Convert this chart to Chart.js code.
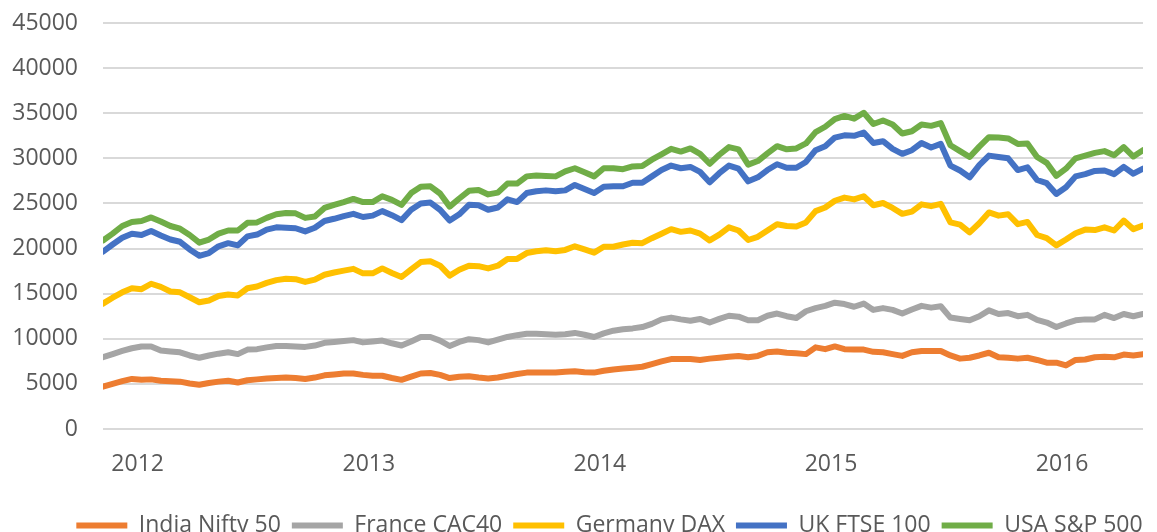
<!DOCTYPE html>
<html>
<head>
<meta charset="utf-8">
<script src="https://cdn.jsdelivr.net/npm/chart.js@4.4.0/dist/chart.umd.min.js"></script>
<style>
  html, body { margin: 0; padding: 0; background: #fff; }
  #wrap { width: 1157px; height: 532px; }
</style>
</head>
<body>
<div id="wrap"><canvas id="indexChart"></canvas></div>
<script>
const seriesNames = ['India Nifty 50', 'France CAC40', 'Germany DAX', 'UK FTSE 100', 'USA S&P 500'];
const seriesColors = ['#ED7D31', '#A5A5A5', '#FFC000', '#4472C4', '#70AD47'];
const yearTicks = [2012, 2013, 2014, 2015, 2016];

// two readings a month, early Nov 2011 to early May 2016
const dates = Array.from({ length: 109 }, (_, i) => 2011.85 + i / 24);

// levels as plotted (each line sits on top of the one below it)
const nifty = [4700, 5000, 5300, 5550, 5450, 5500, 5350, 5300, 5250, 5050, 4900, 5100, 5250, 5350, 5150, 5400, 5500, 5600, 5650, 5700,
  5650, 5550, 5700, 5950, 6050, 6150, 6150, 6000, 5900, 5900, 5650, 5450, 5800, 6150, 6200, 6000, 5650, 5800, 5850, 5700,
  5600, 5700, 5900, 6100, 6250, 6250, 6250, 6250, 6350, 6400, 6300, 6250, 6450, 6600, 6700, 6800, 6900, 7200, 7500, 7750,
  7750, 7750, 7650, 7800, 7900, 8000, 8100, 7950, 8100, 8500, 8600, 8450, 8400, 8300, 9050, 8850, 9150, 8850, 8800, 8800,
  8550, 8500, 8300, 8100, 8500, 8650, 8650, 8650, 8150, 7800, 7900, 8150, 8450, 7950, 7900, 7800, 7900, 7650, 7350, 7350,
  7050, 7650, 7700, 7950, 8000, 7950, 8250, 8150, 8300];
const cac40 = [7950, 8300, 8650, 8950, 9150, 9150, 8700, 8600, 8500, 8150, 7900, 8150, 8350, 8500, 8300, 8800, 8850, 9050, 9200, 9200,
  9150, 9100, 9250, 9550, 9650, 9750, 9850, 9600, 9700, 9800, 9500, 9250, 9700, 10200, 10200, 9800, 9200, 9650, 9950, 9850,
  9600, 9900, 10200, 10400, 10550, 10550, 10500, 10450, 10500, 10650, 10450, 10200, 10600, 10900, 11050, 11150, 11300, 11650, 12150, 12350,
  12150, 12000, 12200, 11800, 12200, 12550, 12450, 12050, 12050, 12550, 12800, 12500, 12300, 13050, 13400, 13650, 14000, 13850, 13550, 13900,
  13200, 13400, 13200, 12800, 13250, 13650, 13450, 13600, 12350, 12200, 12050, 12500, 13150, 12750, 12850, 12500, 12650, 12100, 11800, 11300,
  11700, 12050, 12150, 12150, 12650, 12300, 12750, 12500, 12750];
const dax = [13900, 14550, 15150, 15600, 15500, 16100, 15750, 15250, 15150, 14600, 14050, 14250, 14750, 14900, 14800, 15600, 15800, 16200, 16500, 16650,
  16600, 16300, 16550, 17100, 17350, 17550, 17750, 17250, 17250, 17800, 17300, 16850, 17700, 18500, 18600, 18100, 17000, 17650, 18100, 18050,
  17800, 18100, 18850, 18850, 19500, 19700, 19800, 19700, 19850, 20250, 19900, 19550, 20200, 20200, 20450, 20650, 20600, 21150, 21650, 22150,
  21850, 22000, 21650, 20900, 21550, 22350, 22000, 20950, 21300, 22000, 22700, 22500, 22450, 22900, 24150, 24550, 25300, 25650, 25450, 25800,
  24800, 25050, 24500, 23850, 24100, 24900, 24700, 24950, 22900, 22650, 21800, 22800, 24000, 23650, 23800, 22700, 22950, 21500, 21150, 20350,
  21000, 21700, 22100, 22050, 22350, 22000, 23100, 22150, 22550];
const ftse = [19650, 20450, 21200, 21650, 21500, 21950, 21450, 21000, 20750, 19900, 19200, 19500, 20250, 20600, 20350, 21350, 21550, 22100, 22350, 22300,
  22250, 21900, 22300, 23050, 23300, 23600, 23850, 23500, 23650, 24150, 23700, 23150, 24300, 25000, 25100, 24300, 23100, 23800, 24850, 24800,
  24300, 24550, 25450, 25150, 26150, 26350, 26450, 26350, 26450, 27050, 26600, 26150, 26850, 26900, 26900, 27300, 27300, 28000, 28700, 29200,
  28900, 29050, 28500, 27350, 28350, 29200, 28850, 27450, 27900, 28700, 29350, 28950, 28950, 29600, 30900, 31350, 32300, 32550, 32500, 32850,
  31700, 31900, 31050, 30500, 30900, 31700, 31200, 31600, 29200, 28650, 27900, 29250, 30300, 30150, 30000, 28700, 29000, 27600, 27250, 26050,
  26800, 28000, 28250, 28600, 28650, 28250, 29050, 28300, 28850];
const sp500 = [20900, 21650, 22500, 22950, 23050, 23450, 23000, 22500, 22200, 21500, 20650, 21000, 21650, 22000, 22000, 22850, 22900, 23400, 23800, 23950,
  23900, 23400, 23550, 24500, 24850, 25150, 25500, 25150, 25150, 25800, 25400, 24850, 26150, 26850, 26900, 26100, 24650, 25550, 26400, 26500,
  26000, 26200, 27200, 27200, 28000, 28100, 28050, 28000, 28550, 28900, 28450, 28000, 28900, 28900, 28800, 29100, 29150, 29850, 30450, 31050,
  30750, 31100, 30500, 29400, 30400, 31250, 31000, 29300, 29700, 30550, 31350, 31000, 31100, 31650, 32900, 33500, 34350, 34700, 34400, 35050,
  33800, 34200, 33750, 32750, 33000, 33750, 33600, 33900, 31450, 30800, 30150, 31300, 32350, 32300, 32200, 31600, 31650, 30150, 29500, 28050,
  28850, 30000, 30300, 30600, 30800, 30350, 31250, 30200, 30900];

const seriesValues = [nifty, cac40, dax, ftse, sp500];
const textColor = '#595959';
const textFont = { family: 'Open Sans', size: 23 };

// nudge the legend to where it sits in the original
const legendShift = {
  id: 'legendShift',
  afterLayout(chart) {
    const lg = chart.legend;
    lg.left += 38;
    lg.right += 38;
    lg.top += 15;
    lg.bottom += 15;
  }
};

const ctx = document.getElementById('indexChart').getContext('2d');
new Chart(ctx, {
  type: 'line',
  data: {
    datasets: seriesNames.map((name, i) => ({
      label: name,
      data: seriesValues[i].map((v, j) => ({ x: dates[j], y: v })),
      borderColor: seriesColors[i],
      backgroundColor: seriesColors[i],
      borderWidth: 6,
      borderCapStyle: 'round',
      borderJoinStyle: 'round',
      pointRadius: 0,
      fill: false,
      tension: 0,
      order: seriesNames.length - 1 - i
    }))
  },
  options: {
    responsive: true,
    maintainAspectRatio: false,
    animation: false,
    layout: { padding: { top: 0, right: 14, left: 0, bottom: 0 } },
    plugins: {
      tooltip: { enabled: false },
      legend: {
        position: 'bottom',
        labels: {
          usePointStyle: true,
          pointStyle: 'line',
          pointStyleWidth: 51,
          padding: 11,
          color: textColor,
          font: textFont,
          sort: (a, b) => a.datasetIndex - b.datasetIndex
        }
      }
    },
    scales: {
      x: {
        type: 'linear',
        min: 2011.85,
        max: 2016.35,
        grid: { display: false },
        border: { display: false },
        afterBuildTicks: scale => { scale.ticks = yearTicks.map(v => ({ value: v })); },
        afterFit: scale => { scale.height = 59; },
        ticks: { color: textColor, font: textFont, padding: 14, callback: v => String(v) }
      },
      y: {
        min: 0,
        max: 45000,
        grid: { color: '#d9d9d9', lineWidth: 2, drawTicks: false },
        border: { display: false },
        afterFit: scale => {
          scale.width = 103;
          scale.paddingTop = 23;
          scale.paddingBottom = 0;
        },
        ticks: { stepSize: 5000, color: textColor, font: textFont, padding: 25, callback: v => String(v) }
      }
    }
  },
  plugins: [legendShift]
});
</script>
</body>
</html>
